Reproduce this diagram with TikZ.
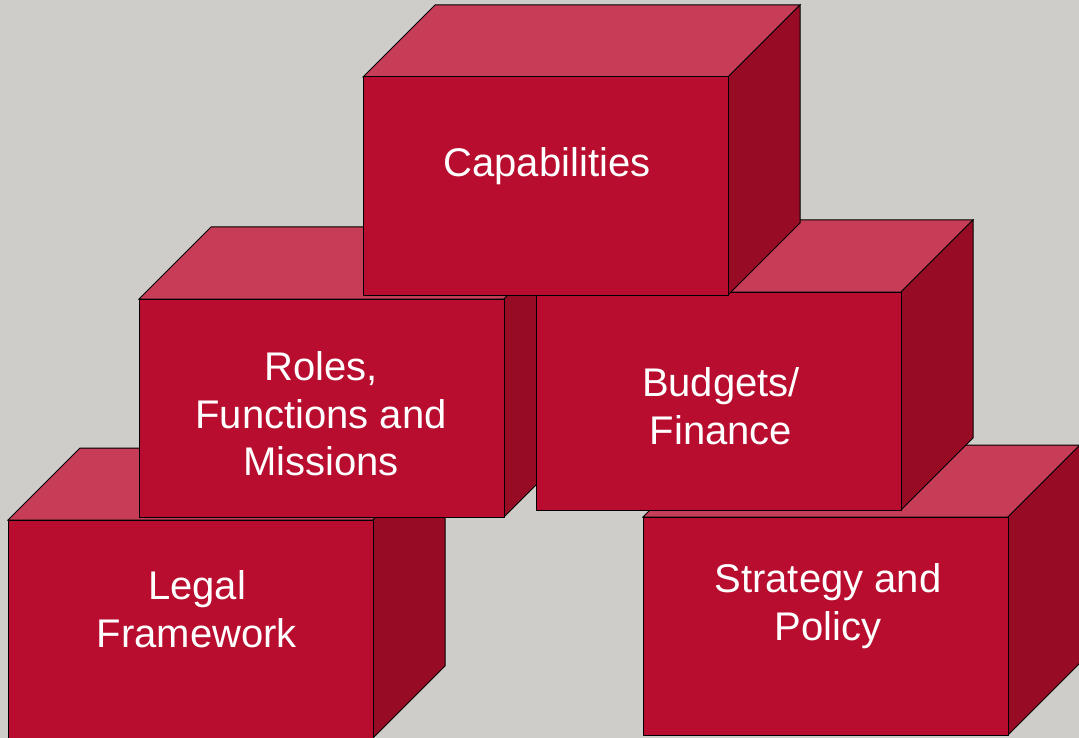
\documentclass[tikz,border=0pt]{standalone}
\usepackage{fontspec}
\setmainfont{Liberation Sans}
\definecolor{brickfront}{RGB}{184,13,46}
\definecolor{bricktop}{RGB}{199,61,87}
\definecolor{brickside}{RGB}{151,11,37}
\definecolor{slide}{RGB}{207,205,201}

\begin{document}
\begin{tikzpicture}[x=1pt,y=-1pt]
        \fill[slide] (0,0) rectangle (1079,738);
        \useasboundingbox (0,0) rectangle (1079,738);
        \begin{scope}[every node/.style={text=white, align=center, inner sep=0, font=\fontsize{40}{47.5}\selectfont}, face/.style={draw=black, line width=1pt, line join=miter}]
                \foreach \x/\y/\tx/\ty/\name/\txt in {8/520/197/609/legal/{Legal\\Framework},
                                643/517/828/606/strategy/{Strategy and\\Policy},
                                139/299/321/414/roles/{Roles,\\Functions and\\Missions},
                                536/292/721/406/budgets/{Budgets/\\Finance},
                                363/77/547/166/capab/{Capabilities}}
                {
                        \path[face, fill=bricktop] (\x,\y) -- ++(72,-72) -- ++(365,0) -- ++(-72,72) -- cycle;
                        \path[face, fill=brickside] ({\x+365},\y) -- ++(72,-72) -- ++(0,218) -- ++(-72,72) -- cycle;
                        \path[face, fill=brickfront] (\x,\y) rectangle ++(365,218);
                        \node (\name) at (\tx,\ty) {\txt};
                }
        \end{scope}
\end{tikzpicture}
\end{document}
